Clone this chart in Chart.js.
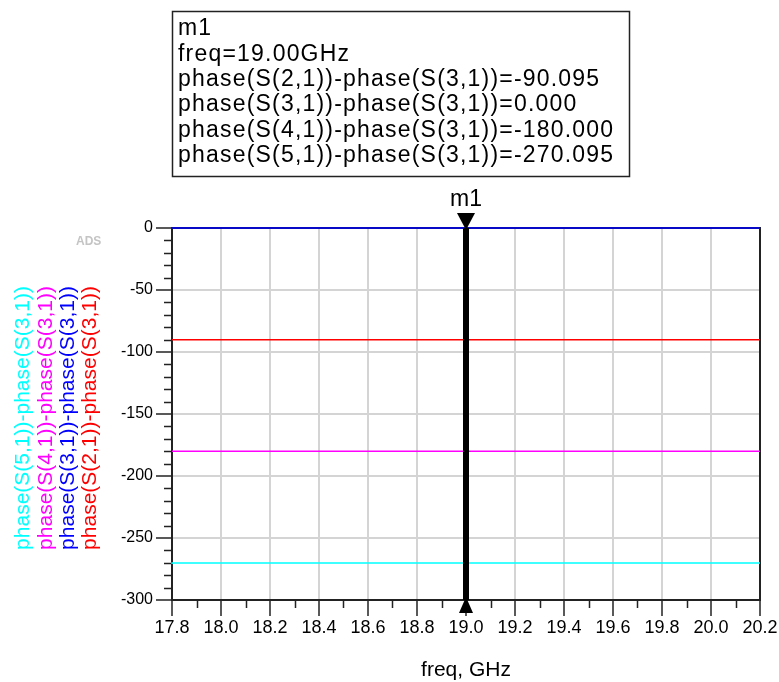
<!DOCTYPE html>
<html>
<head>
<meta charset="utf-8">
<script src="https://cdn.jsdelivr.net/npm/chart.js@4/dist/chart.umd.min.js"></script>
<style>
  body { margin: 0; background: #fff; }
</style>
</head>
<body>
<canvas id="chart" width="779" height="682"></canvas>
<script>
// datos
const freq = [17.8, 17.85, 19.0, 20.2];
const s21 = [-90.095, -90.095, -90.095, -90.095];
const s31 = [0, 0, 0, 0];
const s41 = [-180, -180, -180, -180];
const s51 = [-271.0, -270.095, -270.095, -270.095];

const xTicks = [17.8, 18.0, 18.2, 18.4, 18.6, 18.8, 19.0, 19.2, 19.4, 19.6, 19.8, 20.0, 20.2];
const yTicks = [0, -50, -100, -150, -200, -250, -300];

const markerFreq = 19.0;
const markerName = "m1";

const seriesNames = [
    "phase(S(2,1))-phase(S(3,1))",
    "phase(S(3,1))-phase(S(3,1))",
    "phase(S(4,1))-phase(S(3,1))",
    "phase(S(5,1))-phase(S(3,1))"
];
const seriesColors = ["#ff0000", "#0000ff", "#ff00ff", "#00ffff"];
const seriesData = [s21, s31, s41, s51];

const FONT = "'Liberation Sans', Arial, sans-serif";

function toPoints(values) {
    return freq.map((f, i) => ({ x: f, y: values[i] }));
}

// valor de una serie en la frecuencia del marcador
function valueAt(values, f) {
    let v = values[0];
    for (let i = 0; i < freq.length; i++) {
        if (freq[i] <= f) v = values[i];
    }
    return v;
}

// Plugin para marcador, cuadro de texto, etiquetas rotadas y ticks menores
const adsPlugin = {
    id: "adsDecor",
    beforeDatasetsDraw(chart) {
        const { ctx, chartArea: a } = chart;
        ctx.save();
        ctx.strokeStyle = "#222";
        ctx.lineWidth = 2;
        ctx.beginPath();
        ctx.moveTo(a.left, a.top);
        ctx.lineTo(a.right, a.top);
        ctx.lineTo(a.right, a.bottom);
        ctx.stroke();

        // ticks menores
        const xs = chart.scales.x, ys = chart.scales.y;
        ctx.lineWidth = 1.5;
        ctx.beginPath();
        for (let k = 0; k <= 24; k++) {
            if (k % 2 === 0) continue;
            const px = Math.round(xs.getPixelForValue(17.8 + k * 0.1)) + 0.5;
            ctx.moveTo(px, a.bottom);
            ctx.lineTo(px, a.bottom + 8);
        }
        for (let v = -300; v <= 0; v += 10) {
            if (v % 50 === 0) continue;
            const py = Math.round(ys.getPixelForValue(v)) + 0.5;
            ctx.moveTo(a.left - 8, py);
            ctx.lineTo(a.left, py);
        }
        ctx.stroke();
        ctx.restore();
    },
    afterDatasetsDraw(chart) {
        const { ctx, chartArea: a } = chart;
        const x = chart.scales.x.getPixelForValue(markerFreq);
        ctx.save();
        ctx.fillStyle = "#000";
        ctx.fillRect(x - 3, a.top, 6, a.bottom - a.top);
        // triangulo arriba
        ctx.beginPath();
        ctx.moveTo(x - 9, a.top - 15);
        ctx.lineTo(x + 9, a.top - 15);
        ctx.lineTo(x, a.top + 2);
        ctx.closePath();
        ctx.fill();
        // triangulo abajo
        ctx.beginPath();
        ctx.moveTo(x - 7, a.bottom + 13);
        ctx.lineTo(x + 7, a.bottom + 13);
        ctx.lineTo(x, a.bottom - 3);
        ctx.closePath();
        ctx.fill();

        ctx.font = "23px " + FONT;
        ctx.textAlign = "center";
        ctx.textBaseline = "alphabetic";
        ctx.fillText(markerName, x, a.top - 22);
        ctx.restore();
    },
    afterDraw(chart) {
        const { ctx, chartArea: a } = chart;
        ctx.save();

        // cuadro del marcador
        ctx.strokeStyle = "#222";
        ctx.lineWidth = 1.5;
        ctx.strokeRect(172.5, 11.5, 457, 165);
        ctx.fillStyle = "#000";
        ctx.font = "23px " + FONT;
        ctx.letterSpacing = "1.2px";
        ctx.textAlign = "left";
        ctx.textBaseline = "middle";
        const lines = [markerName, "freq=" + markerFreq.toFixed(2) + "GHz"];
        seriesNames.forEach((n, i) => {
            lines.push(n + "=" + valueAt(seriesData[i], markerFreq).toFixed(3));
        });
        lines.forEach((t, i) => ctx.fillText(t, 178, 29 + i * 25.3));
        ctx.letterSpacing = "0px";

        // etiquetas rotadas del eje Y
        ctx.font = "21px " + FONT;
        ctx.textAlign = "center";
        const cy = (a.top + a.bottom) / 2 + 4;
        const cols = [23, 46, 68, 90];
        for (let i = 0; i < 4; i++) {
            const s = 3 - i;
            ctx.save();
            ctx.translate(cols[i], cy);
            ctx.rotate(-Math.PI / 2);
            ctx.fillStyle = seriesColors[s];
            ctx.fillText(seriesNames[s], 0, 0);
            ctx.restore();
        }

        // marca ADS
        ctx.font = "bold 12px " + FONT;
        ctx.fillStyle = "#c4c4c4";
        ctx.textAlign = "left";
        ctx.fillText("ADS", 76, 242);
        ctx.restore();
    }
};

new Chart(document.getElementById("chart").getContext("2d"), {
    type: "line",
    data: {
        datasets: seriesData.map((vals, i) => ({
            label: seriesNames[i],
            data: toPoints(vals),
            borderColor: seriesColors[i],
            borderWidth: 1.5,
            pointRadius: 0,
            stepped: "after",
            fill: false,
            clip: 4
        }))
    },
    options: {
        responsive: false,
        animation: false,
        layout: { padding: { top: 228, right: 19, left: 0, bottom: 0 } },
        plugins: { legend: { display: false }, tooltip: { enabled: false } },
        scales: {
            x: {
                type: "linear",
                min: 17.8,
                max: 20.2,
                afterBuildTicks: s => { s.ticks = xTicks.map(v => ({ value: v })); },
                afterFit: s => { s.height = 82; },
                grid: { color: "#d4d4d4", lineWidth: 2, tickColor: "#222", tickWidth: 1.5, tickLength: 16 },
                border: { color: "#222", width: 2 },
                ticks: {
                    color: "#000",
                    padding: 1,
                    maxRotation: 0,
                    autoSkip: false,
                    font: { family: FONT, size: 18 },
                    callback: v => Number(v).toFixed(1)
                },
                title: {
                    display: true,
                    text: "freq, GHz",
                    color: "#000",
                    font: { family: FONT, size: 21 },
                    padding: { top: 0, bottom: -1 }
                }
            },
            y: {
                min: -300,
                max: 0,
                afterBuildTicks: s => { s.ticks = yTicks.map(v => ({ value: v })); },
                afterFit: s => { s.width = 172; },
                grid: { color: "#d4d4d4", lineWidth: 2, tickColor: "#222", tickWidth: 1.5, tickLength: 16 },
                border: { color: "#222", width: 2 },
                ticks: {
                    color: "#000",
                    padding: 3,
                    font: { family: FONT, size: 16 },
                    callback: v => String(v)
                }
            }
        }
    },
    plugins: [adsPlugin]
});
</script>
</body>
</html>
